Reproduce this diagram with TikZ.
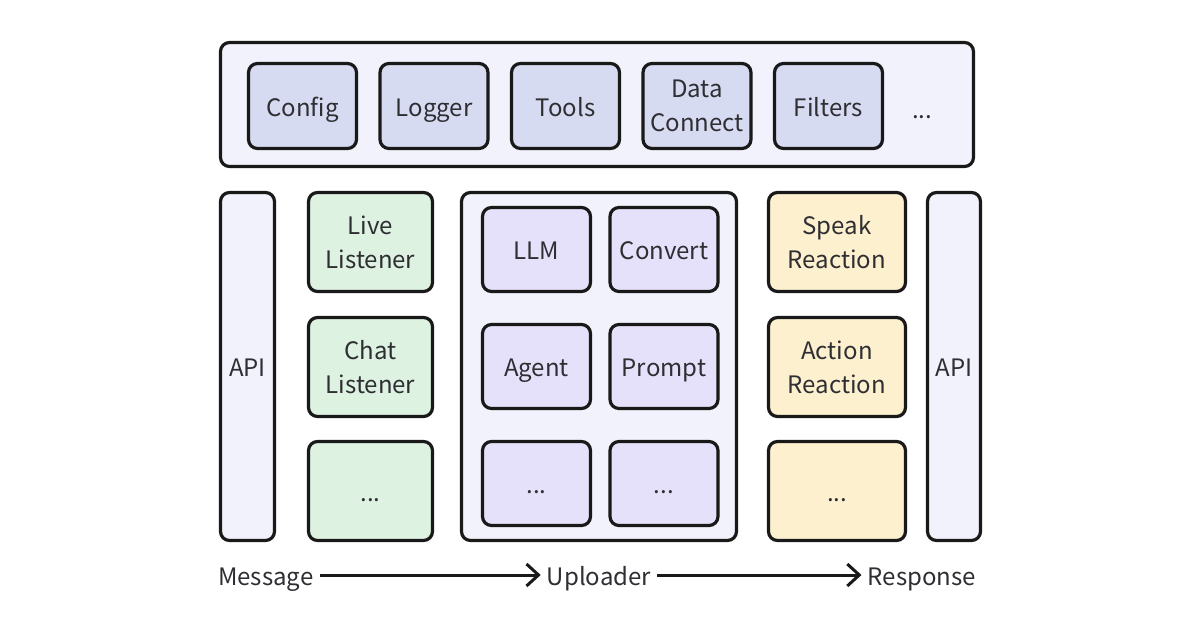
\documentclass[tikz,border=0pt]{standalone}
\usepackage{fontspec}
\setmainfont{Noto Sans CJK SC}
\usetikzlibrary{arrows.meta}
\definecolor{panel}{HTML}{F1F2FB}
\definecolor{topfill}{HTML}{D7DBF1}
\definecolor{greenfill}{HTML}{DDF2E1}
\definecolor{purplefill}{HTML}{E6E1FA}
\definecolor{yellowfill}{HTML}{FDF0CF}
\definecolor{ink}{HTML}{2E2E33}

\begin{document}
\begin{tikzpicture}[x=1pt, y=-1pt, >={Straight Barb[length=12pt,width=22pt]},
  box/.style={draw=black!90, line width=3.2pt, rounded corners=9pt, text=ink,
    align=center, inner sep=0pt, font=\fontsize{24}{34}\selectfont},
  oneline/.style={text height=22pt, text depth=2pt},
  panelbox/.style={box, fill=panel},
  topbox/.style={box, fill=topfill, minimum width=108, minimum height=85},
  listenbox/.style={box, fill=greenfill, minimum width=124, minimum height=99},
  corebox/.style={box, oneline, fill=purplefill, minimum width=108, minimum height=84},
  reactbox/.style={box, fill=yellowfill, minimum width=137, minimum height=99},
  flow/.style={text=ink, inner ysep=0pt, inner xsep=6pt, font=\fontsize{24}{30}\selectfont}]
  \useasboundingbox (0,0) rectangle (1200,630);
  % common layer
  \node[panelbox, minimum width=753, minimum height=124] (common) at (597,104.5) {};
  \foreach \name/\txt/\st [count=\i] in {cfg/Config/oneline, logger/Logger/oneline, tools/Tools/oneline, data/{Data\\Connect}/box, filters/Filters/oneline}
    \node[topbox, \st] (\name) at ({302.5+131.5*(\i-1)},106) {\txt};
  \node[text=ink, oneline, font=\fontsize{24}{30}\selectfont] (more) at (922,108) {...};
  % api columns
  \node[panelbox, oneline, minimum width=54, minimum height=348] (apiin) at (247.5,366.5) {API};
  \node[panelbox, oneline, minimum width=53, minimum height=348] (apiout) at (954,366.5) {API};
  % listeners
  \node[listenbox] (live) at (370.5,242) {Live\\Listener};
  \node[listenbox] (chat) at (370.5,367) {Chat\\Listener};
  \node[listenbox, oneline] (lmore) at (370.5,491) {...};
  % uploader core
  \node[panelbox, minimum width=275, minimum height=348] (core) at (599,366.5) {};
  \node[corebox] (llm) at (536.5,249.5) {LLM};
  \node[corebox] (convert) at (664,249.5) {Convert};
  \node[corebox] (agent) at (536.5,366.5) {Agent};
  \node[corebox] (prompt) at (664,366.5) {Prompt};
  \node[corebox] (cmore1) at (536.5,483.5) {...};
  \node[corebox] (cmore2) at (664,483.5) {...};
  % reactions
  \node[reactbox] (speak) at (837,242) {Speak\\Reaction};
  \node[reactbox] (action) at (837,367) {Action\\Reaction};
  \node[reactbox, oneline] (rmore) at (837,491) {...};
  % flow
  \node[flow, oneline, anchor=west] (msg) at (212,575) {Message};
  \node[flow, oneline] (upl) at (599,575) {Uploader};
  \node[flow, oneline, anchor=east] (resp) at (982,575) {Response};
  \draw[->, line width=3pt, black!90] (msg) -- (upl);
  \draw[->, line width=3pt, black!90] (upl) -- (resp);
\end{tikzpicture}
\end{document}
